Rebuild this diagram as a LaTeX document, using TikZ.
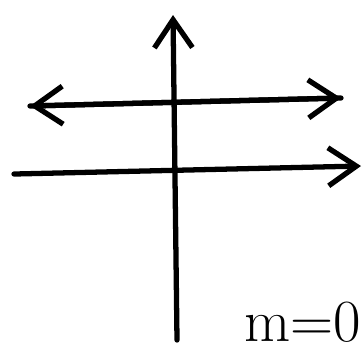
\documentclass[tikz,border=0pt]{standalone}
\usetikzlibrary{arrows.meta}
\tikzset{
  pen/.style={line width=1.5pt, line cap=round, line join=round},
  barb/.style={-{Straight Barb[length=2.8mm,width=3.8mm,line width=1.5pt]}}
}
\begin{document}
\begin{tikzpicture}[x=0.01cm,y=-0.01cm]
  \useasboundingbox (0,0) rectangle (364,353);
  \clip (0,0) rectangle (364,353);
  \coordinate (ybot) at (177,340);
  \coordinate (ytop) at (173,15);
  \coordinate (xleft) at (14,174);
  \coordinate (xright) at (361,166);
  \coordinate (lleft) at (30,106);
  \coordinate (lright) at (341,98);
  \draw[pen,barb] (ybot) -- (ytop);
  \draw[pen,barb] (xleft) -- (xright);
  \draw[pen,barb] (lright) -- (lleft);
  \draw[pen,barb] (lleft) -- (lright);
  \node[anchor=east,inner sep=0pt] (slope) at (362,322) {\fontsize{17}{20}\selectfont m=0};
\end{tikzpicture}
\end{document}
